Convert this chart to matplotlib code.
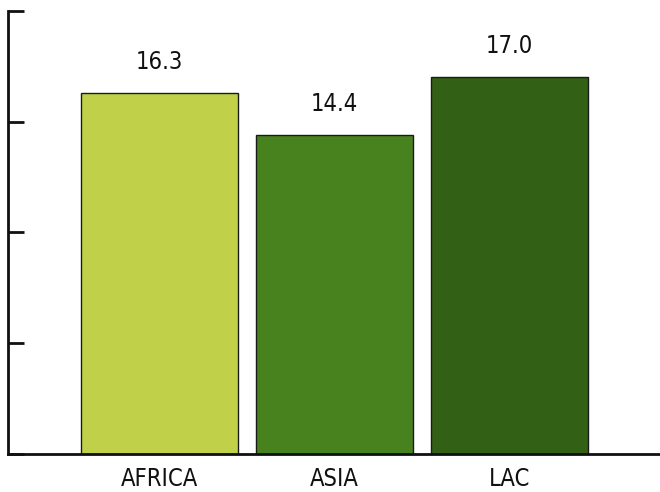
import matplotlib
matplotlib.use("Agg")
import matplotlib.pyplot as plt
from matplotlib import font_manager

regions = ["AFRICA", "ASIA", "LAC"]
values = [16.3, 14.4, 17.0]
colors = ["#C0D048", "#47821E", "#326014"]
y_ticks = [0, 5, 10, 15, 20]

# Prefer a condensed face for the narrow lettering
names = {f.name for f in font_manager.fontManager.ttflist}
family = "DejaVu Sans"
stretch = "condensed"
print(sorted(n for n in names if "Condensed" in n or "Narrow" in n))

fig = plt.figure(figsize=(6.6, 4.92), dpi=100)
ax = fig.add_axes([8 / 660, 38 / 492, 1 - 8 / 660, 443 / 492])

x = list(range(len(regions)))
bars = ax.bar(x, values, width=0.9, color=colors, edgecolor="#1a1a1a", linewidth=1.0, zorder=2)

for xi, v in zip(x, values):
    ax.annotate(f"{v:.1f}", (xi, v), xytext=(0, 14), textcoords="offset points",
                ha="center", va="bottom", fontsize=17, family=family, stretch=stretch,
                color="#111111")

ax.set_xlim(-0.866, 2.86)
ax.set_ylim(0, 20)
ax.set_yticks(y_ticks)
ax.set_yticklabels([])
ax.set_xticks(x)
ax.set_xticklabels(regions, fontsize=17, family=family, stretch=stretch, color="#111111")

ax.tick_params(axis="y", direction="in", length=11.5, width=2, color="#111111", left=True)
ax.tick_params(axis="x", length=0, pad=9)

for side in ["top", "right"]:
    ax.spines[side].set_visible(False)
for side in ["left", "bottom"]:
    ax.spines[side].set_linewidth(2)
    ax.spines[side].set_color("#111111")

fig.savefig("out.png", dpi=100)
